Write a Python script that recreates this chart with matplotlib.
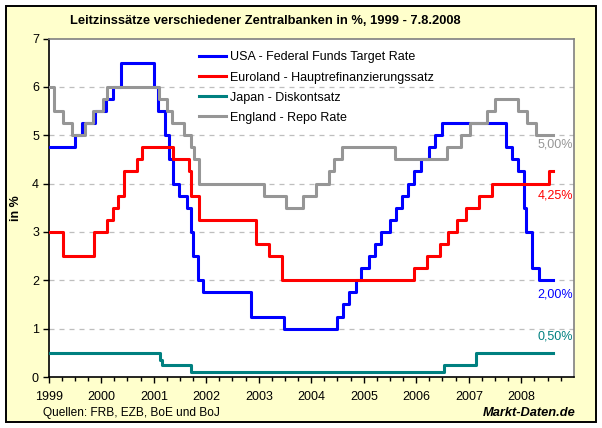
import pandas as pd
import matplotlib.pyplot as plt
import matplotlib.dates as mdates
from matplotlib.patches import Rectangle

plt.rcParams['font.family'] = ['Liberation Sans', 'DejaVu Sans']

# Leitzinsen (Datum der Aenderung, neuer Satz)
usa_dates = ['1999-01-01', '1999-06-30', '1999-08-24', '1999-11-16', '2000-02-02', '2000-03-21',
             '2000-05-16', '2001-01-03', '2001-01-31', '2001-03-20', '2001-04-18', '2001-05-15',
             '2001-06-27', '2001-08-21', '2001-09-17', '2001-10-02', '2001-11-06', '2001-12-11',
             '2002-11-06', '2003-06-25', '2004-06-30', '2004-08-10', '2004-09-21', '2004-11-10',
             '2004-12-14', '2005-02-02', '2005-03-22', '2005-05-03', '2005-06-30', '2005-08-09',
             '2005-09-20', '2005-11-01', '2005-12-13', '2006-01-31', '2006-03-28', '2006-05-10',
             '2006-06-29', '2007-09-18', '2007-10-31', '2007-12-11', '2008-01-22', '2008-01-30',
             '2008-03-18', '2008-04-30']
usa_rates = [4.75, 5.00, 5.25, 5.50, 5.75, 6.00,
             6.50, 6.00, 5.50, 5.00, 4.50, 4.00,
             3.75, 3.50, 3.00, 2.50, 2.00, 1.75,
             1.25, 1.00, 1.25, 1.50, 1.75, 2.00,
             2.25, 2.50, 2.75, 3.00, 3.25, 3.50,
             3.75, 4.00, 4.25, 4.50, 4.75, 5.00,
             5.25, 4.75, 4.50, 4.25, 3.50, 3.00,
             2.25, 2.00]

ezb_dates = ['1999-01-01', '1999-04-09', '1999-11-10', '2000-02-09', '2000-03-22', '2000-04-28',
             '2000-06-09', '2000-09-06', '2000-10-11', '2001-05-15', '2001-09-05', '2001-09-18',
             '2001-11-14', '2002-12-11', '2003-03-12', '2003-06-09', '2005-12-13', '2006-03-14',
             '2006-06-15', '2006-08-09', '2006-10-11', '2006-12-13', '2007-03-14', '2007-06-13',
             '2008-07-09']
ezb_rates = [3.00, 2.50, 3.00, 3.25, 3.50, 3.75,
             4.25, 4.50, 4.75, 4.50, 4.25, 3.75,
             3.25, 2.75, 2.50, 2.00, 2.25, 2.50,
             2.75, 3.00, 3.25, 3.50, 3.75, 4.00,
             4.25]

boj_dates = ['1999-01-01', '2001-02-13', '2001-03-01', '2001-09-19', '2006-07-14', '2007-02-21']
boj_rates = [0.50, 0.35, 0.25, 0.10, 0.25, 0.50]

boe_dates = ['1999-01-01', '1999-02-04', '1999-04-08', '1999-06-10', '1999-09-08', '1999-11-04',
             '2000-01-13', '2000-02-10', '2001-02-08', '2001-04-05', '2001-05-10', '2001-08-02',
             '2001-09-18', '2001-10-04', '2001-11-08', '2003-02-06', '2003-07-10', '2003-11-06',
             '2004-02-05', '2004-05-06', '2004-06-10', '2004-08-05', '2005-08-04', '2006-08-03',
             '2006-11-09', '2007-01-11', '2007-05-10', '2007-07-05', '2007-12-06', '2008-02-07',
             '2008-04-10']
boe_rates = [6.00, 5.50, 5.25, 5.00, 5.25, 5.50,
             5.75, 6.00, 5.75, 5.50, 5.25, 5.00,
             4.75, 4.50, 4.00, 3.75, 3.50, 3.75,
             4.00, 4.25, 4.50, 4.75, 4.50, 4.75,
             5.00, 5.25, 5.50, 5.75, 5.50, 5.25,
             5.00]

end_date = '2008-08-07'
year_labels = [str(y) for y in range(1999, 2009)]

series = [
    ('USA - Federal Funds Target Rate', usa_dates, usa_rates, '#0000FF', '2,00%'),
    ('Euroland - Hauptrefinanzierungssatz', ezb_dates, ezb_rates, '#FF0000', '4,25%'),
    ('Japan - Diskontsatz', boj_dates, boj_rates, '#008080', '0,50%'),
    ('England - Repo Rate', boe_dates, boe_rates, '#969696', '5,00%'),
]
label_offsets = {'2,00%': -0.3, '4,25%': -0.5, '0,50%': 0.33, '5,00%': -0.2}

fig = plt.figure(figsize=(6.02, 4.28), dpi=100)
fig.patch.set_facecolor('white')
fig.patches.append(Rectangle((5.5 / 602, 1 - 421.5 / 428), 590 / 602, 416 / 428,
                             transform=fig.transFigure, facecolor='#FFFFCC',
                             edgecolor='black', linewidth=1.4, zorder=-5))

ax = fig.add_axes([48.7 / 602, 1 - 377 / 428, (574 - 48.7) / 602, (377 - 38.5) / 428])
ax.set_zorder(2)
ax.set_facecolor('white')

for name, dates, rates, color, lab in series:
    d = pd.to_datetime(dates + [end_date])
    r = rates + [rates[-1]]
    ax.step(d, r, where='post', color=color, linewidth=2.2, label=name, zorder=3)
    ax.text(pd.Timestamp('2008-12-25'), rates[-1] + label_offsets[lab], lab,
            color=color, fontsize=9, ha='right', va='center')

ax.set_xlim(pd.Timestamp('1999-01-01'), pd.Timestamp('2009-01-01'))
ax.set_ylim(0, 7)
ax.set_yticks(range(0, 8))
ax.set_xticks(pd.to_datetime([y + '-01-01' for y in year_labels]))
ax.set_xticklabels(year_labels)
ax.xaxis.set_minor_locator(mdates.MonthLocator(bymonth=[4, 7, 10]))
ax.tick_params(axis='both', which='major', direction='out', length=4, width=1,
               labelsize=9, colors='black')
ax.tick_params(axis='x', which='minor', direction='out', length=3, width=1)
ax.tick_params(axis='x', pad=6)
ax.tick_params(axis='y', pad=3)

for y in range(1, 7):
    ax.axhline(y, color='#BEBEBE', linestyle=(0, (4, 4)), linewidth=0.9, zorder=1)

ax.spines['left'].set_color('black')
ax.spines['bottom'].set_color('black')
ax.spines['top'].set_color('#808080')
ax.spines['right'].set_color('#808080')
for s in ax.spines.values():
    s.set_linewidth(1.2)

ax.set_ylabel('in %', fontsize=9, fontweight='bold', labelpad=7)

ax.legend(loc='upper left', bbox_to_anchor=(0.265, 0.995), frameon=False, fontsize=9,
          handlelength=2.15, handletextpad=0.3, labelspacing=0.65)

fig.text(265 / 602, 1 - 21 / 428, 'Leitzinssätze verschiedener Zentralbanken in %, 1999 - 7.8.2008',
         fontsize=9.3, fontweight='bold', ha='center', va='center')
fig.text(43 / 602, 1 - 413 / 428, 'Quellen: FRB, EZB, BoE und BoJ', fontsize=8.6, ha='left', va='center')
fig.text(576 / 602, 1 - 413 / 428, 'Markt-Daten.de', fontsize=9.3, fontweight='bold',
         fontstyle='italic', ha='right', va='center')

fig.savefig('out.png', dpi=100)
